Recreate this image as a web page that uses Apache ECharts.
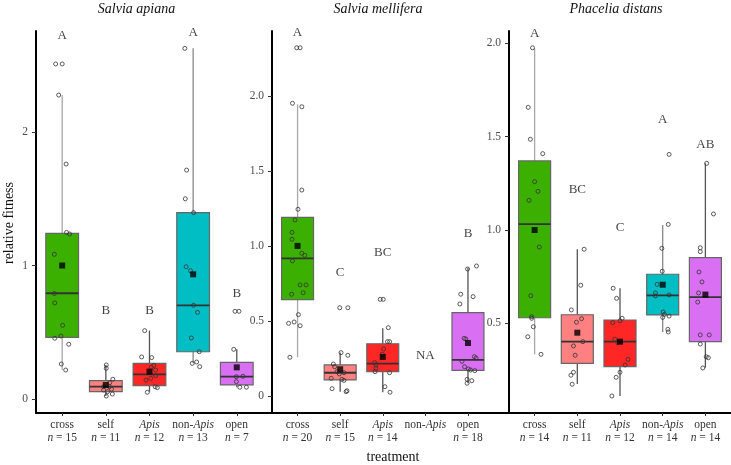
<!DOCTYPE html>
<html>
<head>
<meta charset="utf-8">
<script src="https://cdn.jsdelivr.net/npm/echarts@6/dist/echarts.min.js"></script>
<style>
html,body{margin:0;padding:0;background:#fff;}
#chart{width:731px;height:465px;}
</style>
</head>
<body>
<div id="chart"></div>
<script>
// ---------- data ----------
const categories = ['cross', 'self', 'Apis', 'non-Apis', 'open'];
const panelTitles = ['Salvia apiana', 'Salvia mellifera', 'Phacelia distans'];
const xTitle = 'treatment';
const yTitle = 'relative fitness';

const nApiana = [15, 11, 12, 13, 7];
const nMellifera = [20, 15, 14, null, 18];
const nPhacelia = [14, 11, 12, 14, 14];

// box stats: [lower whisker, q1, median, q3, upper whisker]
const boxApiana = [
  [0.217, 0.462, 0.792, 1.241, 2.277],
  [0.022, 0.055, 0.092, 0.137, 0.255],
  [0.055, 0.100, 0.185, 0.267, 0.512],
  [0.267, 0.354, 0.702, 1.396, 2.627],
  [0.088, 0.105, 0.167, 0.275, 0.372]
];
const boxMellifera = [
  [0.258, 0.642, 0.917, 1.190, 1.943],
  [0.029, 0.107, 0.155, 0.207, 0.289],
  [0.025, 0.162, 0.215, 0.348, 0.451],
  null,
  [0.085, 0.171, 0.240, 0.555, 0.855]
];
const boxPhacelia = [
  [0.334, 0.530, 1.032, 1.370, 1.973],
  [0.175, 0.286, 0.402, 0.546, 0.897],
  [0.111, 0.268, 0.402, 0.518, 0.688],
  [0.454, 0.545, 0.650, 0.763, 1.027],
  [0.263, 0.402, 0.640, 0.852, 1.357]
];

const meanApiana = [1.0, 0.105, 0.205, 0.934, 0.237];
const meanMellifera = [1.0, 0.178, 0.260, null, 0.353];
const meanPhacelia = [1.0, 0.450, 0.402, 0.707, 0.654];

// jittered observations [x position, relative fitness]
const pointsApiana = [
  [0.85, 2.51], [1.00, 2.51], [0.92, 2.277], [1.09, 1.76], [1.10, 1.248], [1.17, 1.236],
  [0.82, 1.084], [0.82, 0.79], [0.83, 0.72], [1.01, 0.552], [0.97, 0.472], [0.83, 0.455],
  [1.15, 0.41], [0.98, 0.262], [1.08, 0.217],
  [2.01, 0.255], [2.01, 0.23], [2.16, 0.148], [2.09, 0.122], [1.95, 0.092], [2.08, 0.092],
  [2.13, 0.073], [2.04, 0.055], [2.15, 0.037], [2.01, 0.022], [1.95, 0.067],
  [2.89, 0.512], [2.82, 0.315], [3.05, 0.31], [3.10, 0.252], [3.04, 0.237], [3.14, 0.217],
  [3.14, 0.175], [3.03, 0.155], [2.92, 0.142], [3.18, 0.085], [3.13, 0.092], [2.95, 0.05],
  [3.81, 2.627], [3.85, 1.715], [3.82, 1.5], [4.01, 1.396], [3.84, 0.991], [3.94, 0.961],
  [4.01, 0.702], [4.10, 0.649], [3.96, 0.457], [4.14, 0.354], [3.98, 0.267], [4.08, 0.277], [4.15, 0.242],
  [4.96, 0.657], [5.05, 0.657], [4.93, 0.372], [4.99, 0.167], [5.14, 0.17], [4.99, 0.13],
  [5.07, 0.088], [5.22, 0.088]
];
const pointsMellifera = [
  [0.98, 2.32], [1.06, 2.32], [0.88, 1.95], [1.10, 1.927], [1.10, 1.372], [1.01, 1.244],
  [0.94, 1.173], [0.87, 1.09], [0.87, 1.044], [1.10, 0.951], [1.17, 0.937], [0.88, 0.9],
  [1.06, 0.74], [1.20, 0.74], [0.86, 0.678], [1.13, 0.688], [0.79, 0.484], [0.92, 0.493],
  [1.06, 0.468], [1.02, 0.542], [0.82, 0.258],
  [1.99, 0.588], [2.18, 0.588], [2.02, 0.289], [2.18, 0.271], [1.84, 0.213], [1.87, 0.195],
  [2.09, 0.155], [1.98, 0.147], [1.93, 0.162], [1.79, 0.118], [2.04, 0.111], [2.09, 0.104],
  [1.81, 0.049], [2.16, 0.035], [2.14, 0.029],
  [2.94, 0.644], [3.01, 0.644], [3.13, 0.455], [3.11, 0.362], [3.16, 0.362], [3.02, 0.313],
  [2.99, 0.278], [2.81, 0.222], [2.84, 0.207], [2.84, 0.185], [2.82, 0.162], [3.16, 0.155],
  [3.05, 0.062], [3.17, 0.025],
  [4.99, 0.846], [5.20, 0.866], [4.83, 0.678], [5.12, 0.662], [4.81, 0.613], [4.91, 0.384],
  [4.95, 0.38], [5.15, 0.262], [5.19, 0.253], [4.86, 0.231], [4.92, 0.195], [5.06, 0.173],
  [5.16, 0.169], [5.01, 0.18], [4.98, 0.111], [5.09, 0.102], [4.98, 0.085]
];
const pointsPhacelia = [
  [0.95, 1.976], [0.85, 1.657], [0.90, 1.486], [1.19, 1.409], [1.00, 1.259], [1.08, 1.207],
  [0.87, 1.159], [1.11, 0.909], [0.91, 0.648], [0.93, 0.536], [0.97, 0.482], [0.84, 0.428],
  [1.15, 0.334], [0.93, 0.527],
  [2.16, 0.897], [2.08, 0.704], [1.86, 0.572], [2.10, 0.525], [1.98, 0.506], [2.13, 0.402],
  [1.91, 0.379], [1.95, 0.329], [1.91, 0.238], [1.85, 0.222], [1.88, 0.174],
  [2.84, 0.688], [2.92, 0.634], [3.05, 0.527], [2.83, 0.504], [3.00, 0.514], [2.88, 0.415],
  [2.95, 0.396], [3.19, 0.307], [3.12, 0.277], [3.00, 0.238], [2.91, 0.211], [2.81, 0.111],
  [4.15, 1.405], [4.13, 1.03], [3.98, 0.902], [3.99, 0.779], [3.87, 0.709], [3.83, 0.663],
  [3.83, 0.647], [4.15, 0.652], [4.01, 0.561], [4.04, 0.548], [4.15, 0.539], [4.00, 0.532],
  [4.12, 0.468], [4.13, 0.454],
  [5.03, 1.357], [5.19, 1.086], [4.88, 0.905], [4.88, 0.884], [4.85, 0.775], [4.92, 0.722],
  [4.84, 0.663], [4.82, 0.614], [4.88, 0.438], [5.09, 0.438], [4.88, 0.389], [5.02, 0.321],
  [5.07, 0.316], [4.94, 0.261]
];

const lettersApiana = ['A', 'B', 'B', 'A', 'B'];
const letterYApiana = [2.72, 0.661, 0.661, 2.745, 0.792];
const lettersMellifera = ['A', 'C', 'BC', 'NA', 'B'];
const letterYMellifera = [2.42, 0.822, 0.957, 0.271, 1.08];
const lettersPhacelia = ['A', 'BC', 'C', 'A', 'AB'];
const letterYPhacelia = [2.053, 1.218, 1.014, 1.594, 1.455];

const yTicksApiana = [0, 1, 2];
const yTicksMellifera = [0, 0.5, 1, 1.5, 2];
const yTicksPhacelia = [0.5, 1, 1.5, 2];
const yRangeApiana = [-0.105, 2.757];
const yRangeMellifera = [-0.1133, 2.4317];
const yRangePhacelia = [0.0198, 2.066];
const xRangeApiana = [0.4, 5.807];
const xRangeMellifera = [0.4, 5.963];
const xRangePhacelia = [0.4, 5.6];

// ---------- styles ----------
const fillColors = ['#3cb000', '#ff8080', '#ff2626', '#00bec4', '#d96ff2'];
const whiskerColors = ['#a8a8a8', '#555555', '#555555', '#888888', '#555555'];
const SERIF = '"Liberation Serif", "DejaVu Serif", serif';

const panels = [
  { n: nApiana, box: boxApiana, mean: meanApiana, pts: pointsApiana, let: lettersApiana, letY: letterYApiana, ticks: yTicksApiana, range: yRangeApiana, xr: xRangeApiana, fmt: v => String(v) },
  { n: nMellifera, box: boxMellifera, mean: meanMellifera, pts: pointsMellifera, let: lettersMellifera, letY: letterYMellifera, ticks: yTicksMellifera, range: yRangeMellifera, xr: xRangeMellifera, fmt: v => v === 0 ? '0' : v.toFixed(1) },
  { n: nPhacelia, box: boxPhacelia, mean: meanPhacelia, pts: pointsPhacelia, let: lettersPhacelia, letY: letterYPhacelia, ticks: yTicksPhacelia, range: yRangePhacelia, xr: xRangePhacelia, fmt: v => v === 0 ? '0' : v.toFixed(1) }
];
const gridLayout = [
  { left: 36, top: 31, width: 236, height: 382 },
  { left: 272, top: 31, width: 237, height: 382 },
  { left: 509, top: 31, width: 222, height: 382 }
];
const titleX = [136.5, 378, 616];

const catPos = categories.map((c, i) => i + 1);

function catLabel(i, n) {
  const c = categories[i];
  let first = c;
  if (c === 'Apis') first = '{i|Apis}';
  if (c === 'non-Apis') first = 'non-{i|Apis}';
  const second = (n == null) ? ' ' : '{i|n} = ' + n;
  return first + '\n' + second;
}

const grids = [], xAxes = [], yAxes = [], series = [];
panels.forEach((p, k) => {
  grids.push(Object.assign({ containLabel: false }, gridLayout[k]));
  xAxes.push({
    type: 'value', gridIndex: k, min: p.xr[0], max: p.xr[1],
    splitLine: { show: false },
    axisLine: { show: true, onZero: false, lineStyle: { color: '#000', width: 2 } },
    axisTick: { show: true, customValues: catPos, length: 3, lineStyle: { color: '#333', width: 1 } },
    axisLabel: {
      customValues: catPos, margin: 5, fontFamily: SERIF, fontSize: 11.5, color: '#333', lineHeight: 13.5,
      formatter: v => catLabel(Math.round(v) - 1, p.n[Math.round(v) - 1]),
      rich: { i: { fontStyle: 'italic', fontFamily: SERIF, fontSize: 11.5, color: '#333', lineHeight: 13.5 } }
    }
  });
  yAxes.push({
    type: 'value', gridIndex: k, min: p.range[0], max: p.range[1],
    splitLine: { show: false },
    axisLine: { show: true, onZero: false, lineStyle: { color: '#000', width: 2 } },
    axisTick: { show: true, customValues: p.ticks, length: 4, lineStyle: { color: '#333', width: 1 } },
    axisLabel: { customValues: p.ticks, margin: 8, fontFamily: SERIF, fontSize: 11.5, color: '#4d4d4d', formatter: p.fmt }
  });

  const boxData = [];
  p.box.forEach((b, i) => { if (b) boxData.push([i + 1, b[0], b[1], b[2], b[3], b[4], i]); });
  series.push({
    type: 'custom', xAxisIndex: k, yAxisIndex: k, silent: true,
    encode: { x: 0, y: [1, 2, 3, 4, 5] },
    data: boxData,
    renderItem: (params, api) => {
      const x = api.value(0);
      const ci = api.value(6);
      const w = api.size([0.75, 0])[0];
      const lo = api.coord([x, api.value(1)]);
      const q1 = api.coord([x, api.value(2)]);
      const md = api.coord([x, api.value(3)]);
      const q3 = api.coord([x, api.value(4)]);
      const hi = api.coord([x, api.value(5)]);
      return {
        type: 'group', children: [
          { type: 'line', shape: { x1: lo[0], y1: lo[1], x2: hi[0], y2: hi[1] }, style: { stroke: whiskerColors[ci], lineWidth: 1.3 } },
          { type: 'rect', shape: { x: q1[0] - w / 2, y: q3[1], width: w, height: q1[1] - q3[1] }, style: { fill: fillColors[ci], stroke: '#666', lineWidth: 1.2 } },
          { type: 'line', shape: { x1: md[0] - w / 2, y1: md[1], x2: md[0] + w / 2, y2: md[1] }, style: { stroke: '#333', lineWidth: 1.8 } }
        ]
      };
    }
  });
  series.push({
    type: 'scatter', xAxisIndex: k, yAxisIndex: k, silent: true,
    data: p.pts, symbol: 'circle', symbolSize: 4,
    itemStyle: { color: 'rgba(255,255,255,0)', borderColor: '#333', borderWidth: 0.8, opacity: 1 }
  });
  const meanData = [];
  p.mean.forEach((m, i) => { if (m != null) meanData.push([i + 1, m]); });
  series.push({
    type: 'scatter', xAxisIndex: k, yAxisIndex: k, silent: true,
    data: meanData, symbol: 'rect', symbolSize: 6,
    itemStyle: { color: '#000' }
  });
  series.push({
    type: 'scatter', xAxisIndex: k, yAxisIndex: k, silent: true,
    data: p.let.map((t, i) => [i + 1, p.letY[i], t]),
    symbolSize: 1, itemStyle: { color: 'rgba(0,0,0,0)' },
    label: { show: true, position: 'inside', formatter: q => q.value[2], fontFamily: SERIF, fontSize: 13, color: '#111' }
  });
});

const graphics = panelTitles.map((t, k) => ({
  type: 'text', x: titleX[k], y: 9,
  style: { text: t, fontFamily: SERIF, fontSize: 14, fontStyle: 'italic', fill: '#111', textAlign: 'center', textVerticalAlign: 'middle' }
}));
graphics.push({
  type: 'text', x: 393, y: 457,
  style: { text: xTitle, fontFamily: SERIF, fontSize: 14, fill: '#111', textAlign: 'center', textVerticalAlign: 'middle' }
});
graphics.push({
  type: 'text', x: 9, y: 223, rotation: Math.PI / 2,
  style: { text: yTitle, fontFamily: SERIF, fontSize: 14, fill: '#111', textAlign: 'center', textVerticalAlign: 'middle' }
});

const chart = echarts.init(document.getElementById('chart'), null, { renderer: 'canvas' });
chart.setOption({
  animation: false,
  backgroundColor: '#fff',
  grid: grids, xAxis: xAxes, yAxis: yAxes, series: series, graphic: graphics
});
</script>
</body>
</html>
